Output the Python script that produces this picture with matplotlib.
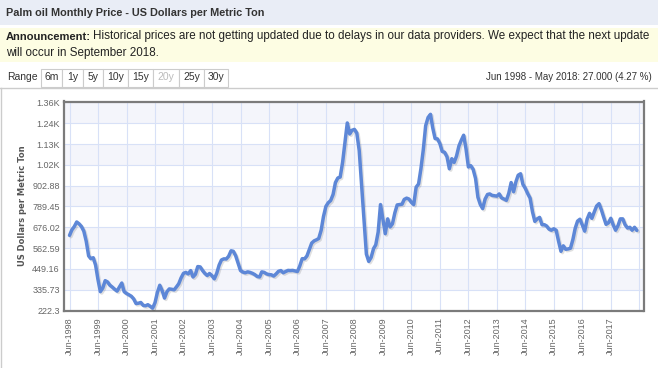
import numpy as np
import pandas as pd
import matplotlib
matplotlib.use('Agg')
import matplotlib.pyplot as plt
import matplotlib.patheffects as pe
from matplotlib.patches import Rectangle

# monthly palm oil price, USD per metric ton, Jun 1998 .. May 2018 (each row Jun..May)
price = [
    632, 662, 680, 705, 695, 680, 655, 600, 520, 505, 510, 470,
    390, 325, 345, 385, 378, 360, 350, 338, 328, 350, 372, 325,
    315, 308, 300, 285, 260, 262, 266, 250, 248, 254, 245, 235,
    265, 320, 360, 330, 290, 325, 340, 338, 335, 350, 368, 400,
    425, 430, 422, 440, 405, 420, 462, 460, 440, 425, 413, 424,
    412, 395, 425, 470, 498, 504, 503, 518, 548, 545, 520, 480,
    440, 432, 428, 433, 430, 425, 418, 408, 405, 433, 430, 422,
    418, 417, 410, 422, 436, 440, 428, 435, 441, 440, 441, 438,
    435, 465, 505, 504, 520, 555, 590, 602, 608, 615, 660, 735,
    790, 810, 822, 855, 920, 945, 950, 1030, 1140, 1245, 1185, 1205,
    1210, 1190, 1095, 900, 720, 530, 490, 512, 560, 580, 650, 800,
    718, 641, 722, 678, 695, 755, 798, 800, 802, 828, 835, 830,
    812, 800, 895, 912, 995, 1100, 1230, 1275, 1292, 1220, 1160, 1158,
    1133, 1090, 1085, 1060, 995, 1050, 1030, 1065, 1120, 1150, 1178, 1105,
    1005, 1012, 992, 942, 840, 800, 778, 830, 855, 858, 850, 848,
    846, 858, 836, 830, 823, 862, 920, 870, 925, 960, 968, 910,
    888, 860, 835, 760, 708, 722, 730, 690, 690, 683, 666, 660,
    668, 660, 600, 545, 575, 556, 558, 562, 610, 670, 710, 720,
    688, 655, 720, 752, 725, 760, 792, 805, 770, 732, 692, 700,
    725, 690, 660, 685, 722, 722, 690, 672, 676, 660, 676, 659,
]
months = pd.date_range('1998-06-01', periods=len(price), freq='MS')

y_ticks = [222.3 + 113.43 * i for i in range(11)]
y_labels = ['222.3', '335.73', '449.16', '562.59', '676.02', '789.45',
            '902.88', '1.02K', '1.13K', '1.24K', '1.36K']
x_ticks = pd.date_range('1998-06-01', '2018-06-01', freq='12MS')
x_labels = ['Jun-%d' % d.year for d in x_ticks[:-1]] + ['']

range_buttons = ['6m', '1y', '5y', '10y', '15y', '20y', '25y', '30y']

W, H = 658, 368
fig = plt.figure(figsize=(W / 100, H / 100), dpi=100)
plt.rcParams['font.family'] = ['Liberation Sans', 'DejaVu Sans']


def fx(x):
    return x / W


def fy(y):
    return 1 - y / H


# header bar and announcement
fig.patches.append(Rectangle((0, fy(25)), 1, 25 / H, transform=fig.transFigure,
                             facecolor='#e9edf6', edgecolor='none'))
fig.text(fx(6), fy(12.5), 'Palm oil Monthly Price - US Dollars per Metric Ton',
         fontsize=7.8, fontweight='bold', color='#333333', va='center')
fig.patches.append(Rectangle((0, fy(62)), 1, 34 / H, transform=fig.transFigure,
                             facecolor='#fdfde3', edgecolor='none'))
fig.text(fx(6), fy(36.5), 'Announcement:', fontsize=8.0, fontweight='bold',
         color='#222222', va='center')
fig.text(fx(92.5), fy(36.5), 'Historical prices are not getting updated due to delays in our '
         'data providers. We expect that the next update', fontsize=8.4,
         color='#222222', va='center')
fig.text(fx(6), fy(53), 'will occur in September 2018.', fontsize=8.4,
         color='#222222', va='center')

# range selector
fig.text(fx(7), fy(77.5), 'Range', fontsize=7.5, color='#333333', va='center')
edges = [40.7, 62.3, 82.7, 102.7, 128.3, 153.3, 179, 204, 228.3]
for i, lab in enumerate(range_buttons):
    x0, x1 = edges[i], edges[i + 1]
    fig.patches.append(Rectangle((fx(x0), fy(87)), (x1 - x0) / W, 18 / H,
                                 transform=fig.transFigure, facecolor='white',
                                 edgecolor='#cccccc', linewidth=0.8))
    fig.text(fx((x0 + x1) / 2), fy(77.5), lab, fontsize=7.5, ha='center', va='center',
             color='#bbbbbb' if lab == '20y' else '#333333')
fig.text(fx(652), fy(77.5), 'Jun 1998 - May 2018: 27.000 (4.27 %)', fontsize=7,
         color='#333333', ha='right', va='center')

# chart container border (top and left)
fig.lines.append(plt.Line2D([0, 1], [fy(88), fy(88)], transform=fig.transFigure,
                            color='#cccccc', linewidth=1))
fig.lines.append(plt.Line2D([fx(1), fx(1)], [fy(88), 0], transform=fig.transFigure,
                            color='#cccccc', linewidth=1))

ax = fig.add_axes([fx(64), fy(310.5), (643.5 - 64) / W, (310.5 - 101.5) / H])
for i in range(10):
    if i % 2 == 1:
        ax.axhspan(y_ticks[i], y_ticks[i + 1], color='#f4f5fb', zorder=0, linewidth=0)
ax.axhspan(y_ticks[-1], 1400, color='#f4f5fb', zorder=0, linewidth=0)

ax.plot(months, price, color='#5d87d7', linewidth=2.5, solid_joinstyle='round',
        solid_capstyle='round', zorder=3,
        path_effects=[pe.SimpleLineShadow(offset=(1, -1), shadow_color='k', alpha=0.12),
                      pe.Normal()])

ax.set_ylim(222.3, 1362)
ax.set_xlim(pd.Timestamp('1998-03-22'), pd.Timestamp('2018-07-25'))
ax.set_yticks(y_ticks)
ax.set_yticklabels(y_labels)
ax.set_xticks(x_ticks)
ax.set_xticklabels(x_labels, rotation=90, va='top')
ax.tick_params(axis='both', length=0, colors='#666666', labelsize=6.5)
ax.tick_params(axis='y', pad=3)
ax.tick_params(axis='x', pad=5)
ax.grid(True, color='#d8e1f7', linewidth=0.8, zorder=1)
ax.set_axisbelow(True)
for s in ax.spines.values():
    s.set_color('#7b7b7b')
    s.set_linewidth(1.6)
ax.set_ylabel('US Dollars per Metric Ton', fontsize=6, fontweight='bold',
              color='#555555', family='DejaVu Sans', labelpad=4)

plt.savefig('out.png', dpi=100)
